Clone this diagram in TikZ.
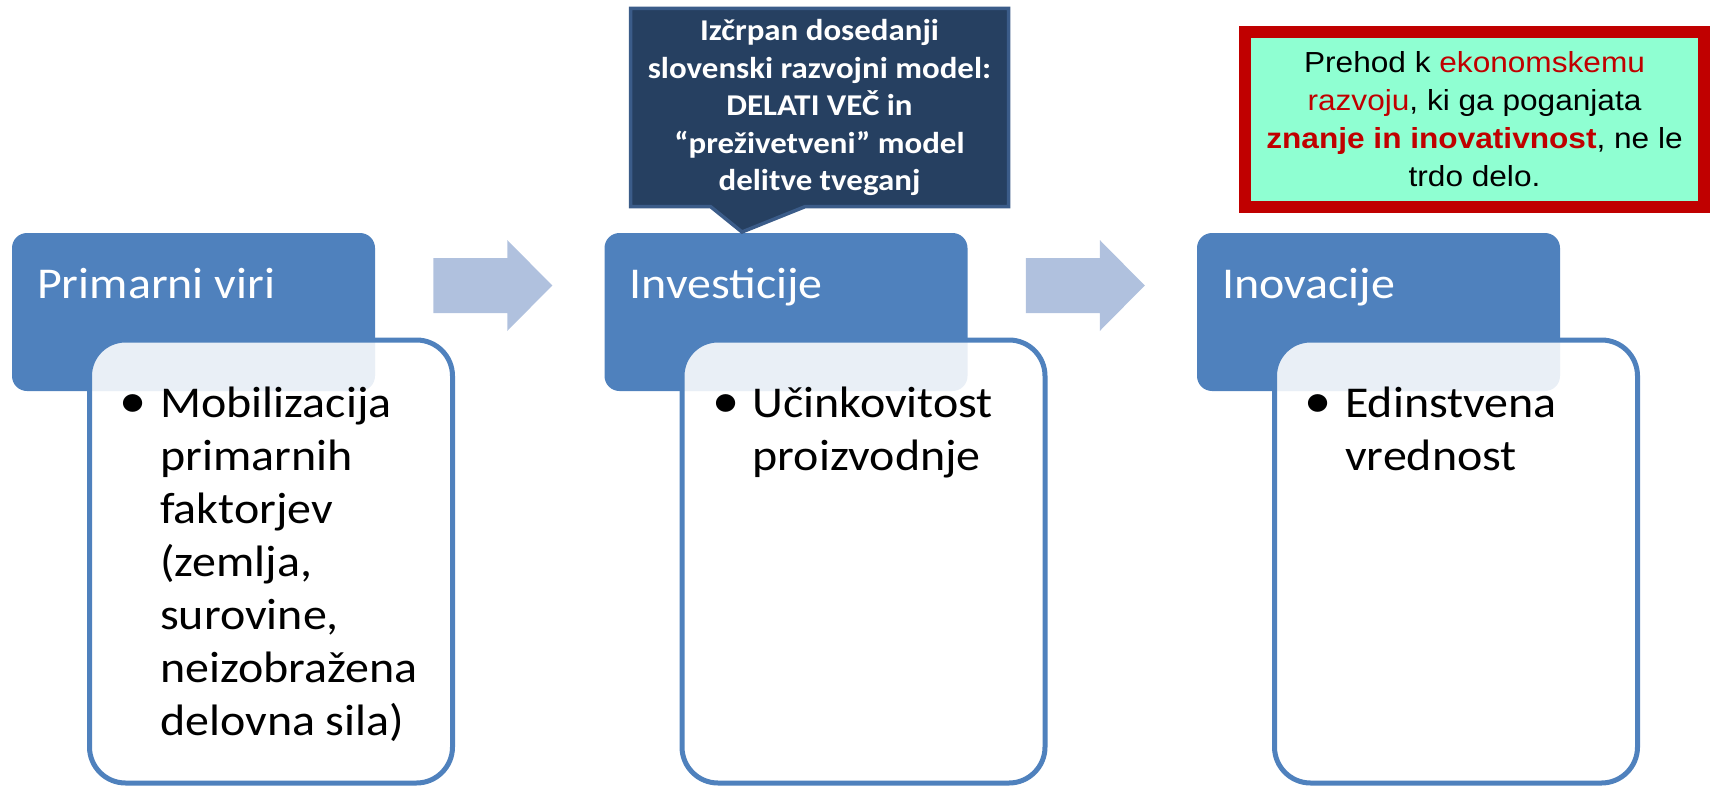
\documentclass[tikz,border=0pt]{standalone}
\usepackage{fontspec}
\setmainfont{Carlito}[FakeStretch=1.09]
\newfontfamily\arialfont{Liberation Sans}[FakeStretch=1.09]
\usetikzlibrary{calc,positioning,shapes.callouts}
\definecolor{hdrblue}{RGB}{79,129,189}
\definecolor{arrowblue}{RGB}{176,193,222}
\definecolor{calloutfill}{RGB}{38,64,97}
\definecolor{calloutedge}{RGB}{59,92,137}
\definecolor{goalred}{RGB}{192,0,0}
\definecolor{goalfill}{RGB}{143,255,210}

\begin{document}
\begin{tikzpicture}[x=1pt, y=-1pt,
  headbox/.style={rectangle, rounded corners=15pt, fill=hdrblue, minimum width=363pt, minimum height=158pt, inner sep=0pt, outer sep=0pt},
  bodybox/.style={rectangle, rounded corners=36pt, draw=hdrblue, line width=5pt, fill=white, fill opacity=0.88, minimum width=363pt, minimum height=443pt, inner sep=0pt, outer sep=0pt},
  headlabel/.style={anchor=base west, inner sep=0pt, text=white, font=\fontsize{44}{53}\selectfont},
  bulletdot/.style={anchor=base, inner sep=0pt, font=\fontsize{50}{53}\selectfont},
  bullettext/.style={anchor=north west, align=left, inner sep=0pt, font=\fontsize{44}{53}\selectfont},
  flowarrow/.style={fill=arrowblue},
  callbox/.style={rectangle callout, fill=calloutfill, draw=calloutedge, line width=3.5pt, minimum width=378pt, minimum height=198pt, inner sep=0pt, callout pointer width=95pt, text=white, align=center, font=\bfseries\fontsize{30.2}{37.5}\selectfont},
  goalbox/.style={rectangle, fill=goalfill, draw=goalred, line width=12pt, minimum width=459pt, minimum height=175pt, inner sep=0pt, outer sep=0pt, align=center, font=\arialfont\fontsize{29}{38}\selectfont}
]
\useasboundingbox (0,0) rectangle (1710,789);

% headers
\node[headbox, anchor=north west] (hdrA) at (12,233) {};
\node[headbox, right=229.5pt of hdrA] (hdrB) {};
\node[headbox, right=229.5pt of hdrB] (hdrC) {};

% bodies
\node[bodybox, anchor=north west] (bodyA) at ($(hdrA.north west)+(77.5,107)$) {};
\node[bodybox, anchor=north west] (bodyB) at ($(hdrB.north west)+(77.5,107)$) {};
\node[bodybox, anchor=north west] (bodyC) at ($(hdrC.north west)+(77.5,107)$) {};

% arrows
\coordinate (arrA) at ($(hdrA.east)!0.5!(hdrB.west)+(3,-26.5)$);
\coordinate (arrB) at ($(hdrB.east)!0.5!(hdrC.west)+(3,-26.5)$);
\fill[flowarrow] ($(arrA)+(-59.5,-27.5)$) -- ++(74,0) -- ++(0,-18) -- ++(45,45.5) -- ++(-45,45.5) -- ++(0,-18) -- ++(-74,0) -- cycle;
\fill[flowarrow] ($(arrB)+(-59.5,-27.5)$) -- ++(74,0) -- ++(0,-18) -- ++(45,45.5) -- ++(-45,45.5) -- ++(0,-18) -- ++(-74,0) -- cycle;

% callout
\coordinate (tipB) at ($(hdrB.north)+(-44,-1)$);
\node[callbox, callout absolute pointer={(tipB)}] (callB) at (819.5,107.5) {Izčrpan dosedanji\\slovenski razvojni model:\\DELATI VEČ in\\“preživetveni” model\\delitve tveganj};

% goal
\node[goalbox] (goal) at (1474.5,119.5) {Prehod k \textcolor{goalred}{ekonomskemu}\\\textcolor{goalred}{razvoju}, ki ga poganjata\\\textcolor{goalred}{\bfseries znanje in inovativnost}, ne le\\trdo delo.};

% labels
\node[headlabel] (labA) at ($(hdrA.north west)+(25,65)$) {Primarni viri};
\node[headlabel] (labB) at ($(hdrB.north west)+(25,65)$) {Investicije};
\node[headlabel] (labC) at ($(hdrC.north west)+(25,65)$) {Inovacije};

\node[bulletdot] (dotA) at ($(bodyA.north west)+(44,77)$) {\textbullet};
\node[bulletdot] (dotB) at ($(bodyB.north west)+(44,77)$) {\textbullet};
\node[bulletdot] (dotC) at ($(bodyC.north west)+(44,77)$) {\textbullet};

\node[bullettext] (txtA) at ($(bodyA.north west)+(70.5,39.9)$) {\strut Mobilizacija\\primarnih\\faktorjev\\(zemlja,\\surovine,\\neizobražena\\delovna sila)};
\node[bullettext] (txtB) at ($(bodyB.north west)+(70.5,39.9)$) {\strut Učinkovitost\\proizvodnje};
\node[bullettext] (txtC) at ($(bodyC.north west)+(70.5,39.9)$) {\strut Edinstvena\\vrednost};

\end{tikzpicture}
\end{document}
